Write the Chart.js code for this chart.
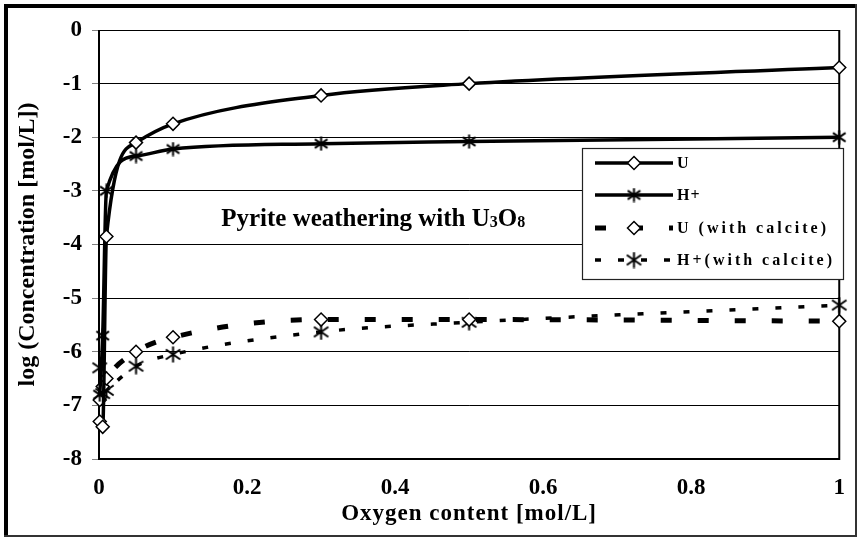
<!DOCTYPE html>
<html><head><meta charset="utf-8">
<script src="https://cdn.jsdelivr.net/npm/chart.js@4.4.1/dist/chart.umd.min.js"></script>
<style>html,body{margin:0;padding:0;background:#fff}#wrap{width:860px;height:538px;position:relative}</style>
</head><body><div id="wrap"><canvas id="c" width="860" height="538"></canvas></div>
<script>
// ---- data ----
const oxygen       = [0.001, 0.005, 0.01, 0.05, 0.1, 0.3, 0.5, 1];
const logU         = [-7.3, -7.4, -3.85, -2.1, -1.75, -1.22, -1.0, -0.7];
const logH         = [-6.8, -5.7, -3.0, -2.35, -2.22, -2.12, -2.08, -2.0];
const logUCalcite  = [-6.9, -6.65, -6.5, -6.0, -5.73, -5.4, -5.4, -5.43];
const logHCalcite  = [-6.3, -6.78, -6.72, -6.27, -6.05, -5.63, -5.45, -5.13];
const seriesNames  = ['U', 'H+', 'U (with calcite)', 'H+(with calcite)'];
const xTicks = [0, 0.2, 0.4, 0.6, 0.8, 1];
const yTicks = [0, -1, -2, -3, -4, -5, -6, -7, -8];
const xTitle = 'Oxygen content [mol/L]';
const yTitle = 'log (Concentration [mol/L])';
const noteParts = [['Pyrite weathering with U', false], ['3', true], ['O', false], ['8', true]];

const FONT = "'Liberation Serif', 'Times New Roman', serif";

function pairs(ys) { return oxygen.map((x, i) => ({x: x, y: ys[i]})); }

function makeAsterisk(size, lw) {
  const c = document.createElement('canvas');
  c.width = size; c.height = size;
  const g = c.getContext('2d');
  g.strokeStyle = '#000'; g.lineWidth = lw; g.lineCap = 'butt';
  const m = size / 2, r = size / 2 - 0.5;
  g.beginPath();
  g.moveTo(m, m - r); g.lineTo(m, m + r);
  const d = r * 0.9, e = r * 0.62;
  g.moveTo(m - d, m - e); g.lineTo(m + d, m + e);
  g.moveTo(m + d, m - e); g.lineTo(m - d, m + e);
  g.stroke();
  return c;
}
const star1 = makeAsterisk(15, 2);
const star2 = makeAsterisk(17, 2);

const frame = {
  id: 'frame',
  beforeDraw(chart) {
    const ctx = chart.ctx;
    ctx.save();
    ctx.fillStyle = '#fff';
    ctx.fillRect(0, 0, chart.width, chart.height);
    ctx.restore();
    const s = chart.scales.x;
    if (s && !s._spaced) {
      const orig = s.drawTitle.bind(s);
      s.drawTitle = function () {
        const c = this.ctx; c.save();
        try { c.letterSpacing = '1px'; } catch (e) {}
        orig(); c.restore();
      };
      s._spaced = true;
    }
  },
  beforeDatasetsDraw(chart) {
    const {ctx, chartArea: a} = chart;
    ctx.save();
    ctx.strokeStyle = '#000';
    ctx.lineWidth = 2;
    ctx.beginPath();
    ctx.moveTo(a.left, a.top); ctx.lineTo(a.left, a.bottom);
    ctx.lineTo(a.right, a.bottom); ctx.lineTo(a.right, a.top);
    ctx.stroke();
    ctx.restore();
  },
  afterDraw(chart) {
    const {ctx, scales} = chart;
    ctx.save();
    // annotation text
    let x = scales.x.getPixelForValue(0.165);
    const yb = scales.y.getPixelForValue(-3.5) + 8;
    ctx.fillStyle = '#000';
    ctx.textBaseline = 'alphabetic';
    ctx.textAlign = 'left';
    for (const [t, sub] of noteParts) {
      ctx.font = sub ? `bold 16px ${FONT}` : `bold 25px ${FONT}`;
      ctx.fillText(t, x, yb + (sub ? 1 : 0));
      x += ctx.measureText(t).width;
    }
    // legend
    const L = {left: 582, top: 148, right: 843, bottom: 279};
    ctx.fillStyle = '#fff';
    ctx.fillRect(L.left, L.top, L.right - L.left, L.bottom - L.top);
    ctx.strokeStyle = '#222';
    ctx.lineWidth = 1.2;
    ctx.strokeRect(L.left + 0.5, L.top + 0.5, L.right - L.left, L.bottom - L.top);
    const rows = [163, 195, 228, 260];
    chart.data.datasets.forEach((ds, i) => {
      const y = rows[i];
      ctx.save();
      ctx.strokeStyle = '#000';
      ctx.lineWidth = ds.borderWidth;
      ctx.setLineDash(ds.borderDash || []);
      ctx.beginPath();
      ctx.moveTo(595, y); ctx.lineTo(673, y);
      ctx.stroke();
      ctx.setLineDash([]);
      ctx.fillStyle = '#fff';
      ctx.strokeStyle = '#000';
      ctx.lineWidth = ds.pointBorderWidth;
      Chart.helpers.drawPoint(ctx, {pointStyle: ds.pointStyle, radius: ds.pointRadius, rotation: 0, borderWidth: ds.pointBorderWidth}, 634, y);
      ctx.restore();
      ctx.fillStyle = '#000';
      ctx.font = `bold 16px ${FONT}`;
      ctx.textBaseline = 'middle';
      try { ctx.letterSpacing = ds.label.indexOf('calcite') >= 0 ? '3px' : '1px'; } catch (e) {}
      ctx.fillText(ds.label, 677, y + 1);
      try { ctx.letterSpacing = '0px'; } catch (e) {}
    });
    // outer frame
    ctx.fillStyle = '#000';
    ctx.fillRect(4, 4, 853, 4);
    ctx.fillRect(4, 4, 4, 533);
    ctx.fillStyle = '#333';
    ctx.fillRect(4, 535, 853, 2);
    ctx.fillRect(855, 4, 2, 533);
    ctx.restore();
  }
};

const tickFont = {family: FONT, size: 23, weight: 'bold'};

new Chart(document.getElementById('c'), {
  type: 'line',
  data: {
    datasets: [
      {label: seriesNames[0], data: pairs(logU), borderColor: '#000', borderWidth: 3.5,
       pointStyle: 'rectRot', pointRadius: 6.5, pointBorderWidth: 1.5, pointBackgroundColor: '#fff', pointBorderColor: '#000'},
      {label: seriesNames[1], data: pairs(logH), borderColor: '#000', borderWidth: 3.5,
       pointStyle: star1, pointRadius: 7, pointBorderWidth: 1.5, pointBackgroundColor: '#fff', pointBorderColor: '#000'},
      {label: seriesNames[2], data: pairs(logUCalcite), borderColor: '#000', borderWidth: 5, borderDash: [11, 26],
       pointStyle: 'rectRot', pointRadius: 6.5, pointBorderWidth: 1.5, pointBackgroundColor: '#fff', pointBorderColor: '#000'},
      {label: seriesNames[3], data: pairs(logHCalcite), borderColor: '#000', borderWidth: 3.5, borderDash: [6, 17],
       pointStyle: star2, pointRadius: 8, pointBorderWidth: 1.5, pointBackgroundColor: '#fff', pointBorderColor: '#000'}
    ]
  },
  options: {
    responsive: false,
    animation: false,
    devicePixelRatio: 1,
    clip: false,
    elements: {line: {tension: 0.4, cubicInterpolationMode: 'monotone', fill: false}},
    layout: {padding: {left: 13, top: 30, right: 12, bottom: 10}},
    plugins: {legend: {display: false}, tooltip: {enabled: false}},
    scales: {
      x: {
        type: 'linear', min: 0, max: 1,
        afterBuildTicks: s => { s.ticks = xTicks.map(v => ({value: v})); },
        afterFit: s => { s.height = 69; },
        grid: {display: false, drawTicks: false},
        border: {display: false},
        ticks: {font: tickFont, color: '#000', padding: 15, maxRotation: 0, autoSkip: false, callback: v => String(v)},
        title: {display: true, text: xTitle, color: '#000', font: {family: FONT, size: 23, weight: 'bold'}, padding: {top: 0, bottom: 0}}
      },
      y: {
        type: 'linear', min: -8, max: 0,
        afterBuildTicks: s => { s.ticks = yTicks.map(v => ({value: v})); },
        afterFit: s => { s.width = 86; },
        grid: {color: '#000', lineWidth: 1, drawTicks: true, tickLength: 7, tickColor: '#808080'},
        border: {display: false},
        ticks: {font: tickFont, color: '#000', padding: 10, autoSkip: false, callback: v => String(v)},
        title: {display: true, text: yTitle, color: '#000', font: {family: FONT, size: 24, weight: 'bold'}, padding: {top: 0, bottom: 0}}
      }
    }
  },
  plugins: [frame]
});
</script>
</body></html>
